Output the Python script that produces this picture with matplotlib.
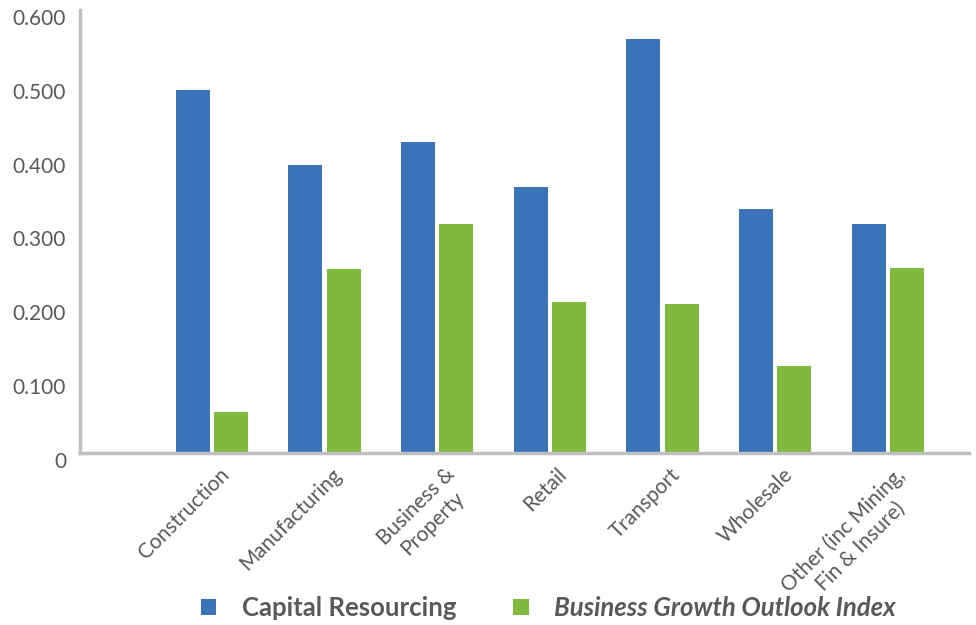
import matplotlib.pyplot as plt
import matplotlib.transforms as mtransforms
import numpy as np

categories = ["Construction", "Manufacturing", "Business &\nProperty", "Retail",
              "Transport", "Wholesale", "Other (inc Mining,\nFin & Insure)"]
capital_resourcing = [0.491, 0.390, 0.421, 0.360, 0.561, 0.330, 0.310]
growth_outlook = [0.056, 0.249, 0.310, 0.205, 0.202, 0.118, 0.251]
y_ticks = [0, 0.1, 0.2, 0.3, 0.4, 0.5, 0.6]
y_labels = ["0", "0.100", "0.200", "0.300", "0.400", "0.500", "0.600"]

BLUE = "#3A73B8"
GREEN = "#80BA3D"
GREY = "#595959"
AXIS = "#BFBFBF"

plt.rcParams['font.family'] = ['Lato', 'DejaVu Sans']

fig = plt.figure(figsize=(9.76, 6.25), dpi=100)
ax = fig.add_axes([80 / 976, 172 / 625, 889 / 976, 443 / 625])

x = np.arange(len(categories))
w = 0.302
off = 0.169
b1 = ax.bar(x - off, capital_resourcing, w, color=BLUE, label="Capital Resourcing")
b2 = ax.bar(x + off, growth_outlook, w, color=GREEN, label="Business Growth Outlook Index")

ax.set_xlim(-1.17, 6.72)
ax.set_ylim(0, 0.6)

for s in ["top", "right"]:
    ax.spines[s].set_visible(False)
for s in ["left", "bottom"]:
    ax.spines[s].set_color(AXIS)
    ax.spines[s].set_linewidth(2.5)

ax.set_yticks(y_ticks)
ax.set_yticklabels(y_labels, fontsize=15, color=GREY)
ax.tick_params(axis="y", length=0, pad=10)
# labels sit a little below their gridline positions
shift = mtransforms.ScaledTranslation(0, -7 / 100, fig.dpi_scale_trans)
for lab in ax.get_yticklabels():
    lab.set_transform(lab.get_transform() + shift)

ax.set_xticks(x)
ax.set_xticklabels(categories, rotation=45, ha="right", fontsize=15, color=GREY,
                   multialignment="center", rotation_mode="anchor")
ax.tick_params(axis="x", length=0, pad=8)
xshift = mtransforms.ScaledTranslation(7 / 100, 0, fig.dpi_scale_trans)
for lab in ax.get_xticklabels():
    lab.set_transform(lab.get_transform() + xshift)

leg = fig.legend(handles=[b1, b2], loc="center", bbox_to_anchor=(0.562, 0.027),
                 ncol=2, frameon=False, fontsize=18.5, handlelength=0.6,
                 handleheight=0.6, columnspacing=2.2, handletextpad=1.0)
texts = leg.get_texts()
for t in texts:
    t.set_color(GREY)
    t.set_fontweight("bold")
texts[1].set_fontstyle("italic")

fig.savefig("out.png", dpi=100)
